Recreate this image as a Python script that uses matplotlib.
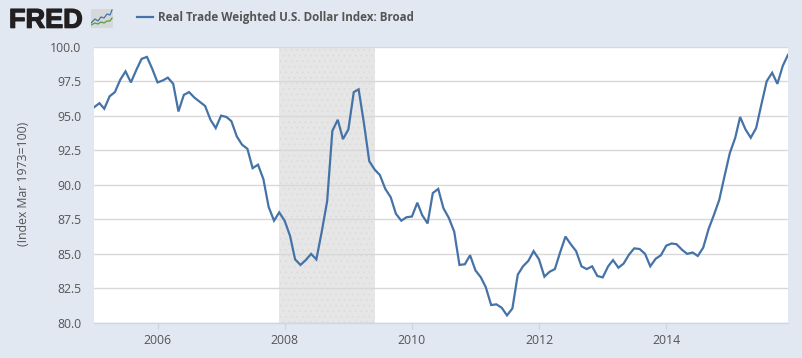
import matplotlib
matplotlib.use('Agg')
import matplotlib.pyplot as plt
import matplotlib.dates as mdates
import matplotlib.patheffects as pe
import pandas as pd
from matplotlib.patches import Rectangle

plt.rcParams['font.family'] = ['Open Sans', 'DejaVu Sans']
plt.rcParams['hatch.linewidth'] = 0.4

# monthly values, Jan 2005 - Dec 2015
values_2005 = [95.6, 95.9, 95.5, 96.4, 96.7, 97.6, 98.2, 97.4, 98.3, 99.1, 99.25, 98.4]
values_2006 = [97.4, 97.55, 97.75, 97.3, 95.3, 96.5, 96.7, 96.3, 96.0, 95.7, 94.7, 94.1]
values_2007 = [95.0, 94.9, 94.6, 93.5, 92.9, 92.6, 91.2, 91.45, 90.4, 88.4, 87.4, 88.0]
values_2008 = [87.4, 86.3, 84.6, 84.2, 84.55, 85.0, 84.6, 86.6, 88.8, 93.9, 94.7, 93.3]
values_2009 = [94.0, 96.7, 96.9, 94.4, 91.7, 91.1, 90.7, 89.7, 89.1, 87.9, 87.4, 87.65]
values_2010 = [87.7, 88.7, 87.8, 87.2, 89.4, 89.7, 88.3, 87.6, 86.6, 84.2, 84.25, 84.9]
values_2011 = [83.8, 83.3, 82.6, 81.3, 81.35, 81.1, 80.55, 81.05, 83.5, 84.1, 84.5, 85.2]
values_2012 = [84.6, 83.35, 83.7, 83.9, 85.1, 86.25, 85.7, 85.2, 84.1, 83.9, 84.1, 83.4]
values_2013 = [83.3, 84.1, 84.55, 84.0, 84.3, 84.95, 85.4, 85.35, 85.0, 84.1, 84.65, 84.9]
values_2014 = [85.6, 85.75, 85.7, 85.3, 85.0, 85.1, 84.85, 85.45, 86.8, 87.8, 88.9, 90.6]
values_2015 = [92.3, 93.4, 94.9, 94.0, 93.4, 94.1, 95.8, 97.5, 98.1, 97.3, 98.6, 99.4]

index_values = (values_2005 + values_2006 + values_2007 + values_2008 + values_2009 + values_2010
                + values_2011 + values_2012 + values_2013 + values_2014 + values_2015)
months = pd.date_range('2005-01-01', periods=len(index_values), freq='MS')

recession_start = pd.Timestamp('2007-12-01')
recession_end = pd.Timestamp('2009-06-01')
y_ticks = [80.0, 82.5, 85.0, 87.5, 90.0, 92.5, 95.0, 97.5, 100.0]
x_ticks = pd.to_datetime(['2006-01-01', '2008-01-01', '2010-01-01', '2012-01-01', '2014-01-01'])

W, H = 802, 358
bg = '#e1e8f1'
line_color = '#4572a7'
text_color = '#555555'

fig = plt.figure(figsize=(W / 100, H / 100), dpi=100, facecolor=bg)
ax = fig.add_axes([94 / W, 1 - 323 / H, (788 - 94) / W, (323 - 46.5) / H])

ax.axvspan(recession_start, recession_end, facecolor='#e6e6e6', edgecolor='#dadada',
           hatch='...', linewidth=0, zorder=1)
ax.plot(months, index_values, color=line_color, linewidth=1.6, zorder=3, solid_joinstyle='miter')

ax.set_xlim(months[0], months[-1])
ax.set_ylim(80, 100)
ax.set_yticks(y_ticks)
ax.set_yticklabels(['%.1f' % v for v in y_ticks])
ax.set_xticks(x_ticks)
ax.xaxis.set_major_formatter(mdates.DateFormatter('%Y'))
ax.grid(axis='y', color='#d8d8d8', linewidth=1, zorder=2)
ax.set_axisbelow(False)
for gl in ax.get_ygridlines():
    gl.set_zorder(2)
ax.tick_params(axis='y', length=0, labelsize=8.8, labelcolor=text_color, pad=9)
ax.tick_params(axis='x', length=4, width=1, color='#ccd6eb', labelsize=8.8, labelcolor=text_color, pad=4)
for side in ['top', 'right', 'left']:
    ax.spines[side].set_visible(False)
ax.spines['bottom'].set_color('#ccd6eb')
ax.spines['bottom'].set_linewidth(1)

fig.text(24 / W, 1 - 184 / H, '(Index Mar 1973=100)', rotation=90, ha='center', va='center',
         fontsize=8.8, color=text_color)

# header: logo + legend
logo = fig.text(9 / W, 1 - 27.7 / H, 'FRED', fontsize=19.5, fontweight='bold', color='#231f20',
                family=['Liberation Sans', 'DejaVu Sans'], ha='left', va='baseline')
logo.set_path_effects([pe.withStroke(linewidth=0.9, foreground='#231f20')])

icon = fig.add_axes([91 / W, 1 - 28 / H, 22 / W, 19 / H])
icon.set_xlim(0, 22)
icon.set_ylim(19, 0)
icon.axis('off')
icon.add_patch(Rectangle((0, 0), 22, 19, facecolor='#d5d9d9', edgecolor='none'))
icon.plot([0, 4, 7, 10, 13, 16, 19, 21], [14, 10, 12, 8, 9, 5, 6, 1], color='#4572a7', linewidth=0.9)
icon.plot([0, 4, 7, 10, 13, 16, 19, 21], [16, 14, 15, 13, 14, 12, 12, 9], color='#5a9a3c', linewidth=0.9)

fig.add_artist(plt.Line2D([137 / W, 153 / W], [1 - 17 / H, 1 - 17 / H], color=line_color, linewidth=1.6))
fig.text(158 / W, 1 - 17 / H, 'Real Trade Weighted U.S. Dollar Index: Broad', fontsize=8.4,
         fontweight='bold', color=text_color, ha='left', va='center')

fig.savefig('out.png', dpi=100, facecolor=bg)
